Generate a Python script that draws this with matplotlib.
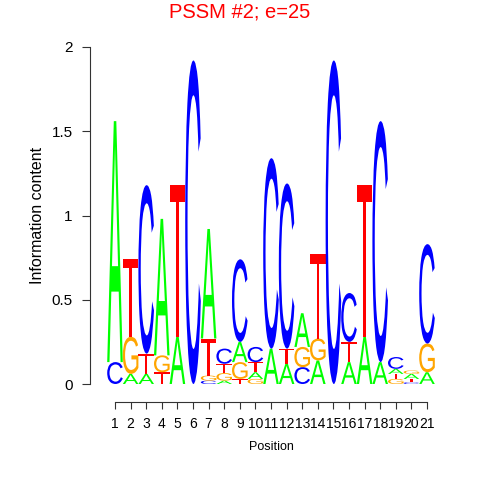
import matplotlib
matplotlib.use("Agg")
import matplotlib.pyplot as plt
from matplotlib.textpath import TextPath
from matplotlib.patches import PathPatch
from matplotlib.font_manager import FontProperties
from matplotlib.transforms import Affine2D

plt.rcParams["font.family"] = ["Liberation Sans", "DejaVu Sans"]

positions = list(range(1, 22))
# information content per base (bits)
A_h = [1.43, 0.06, 0.06, 0.81, 0.28, 0.00, 0.65, 0.02, 0.12, 0.04, 0.21,
       0.12, 0.20, 0.14, 0.00, 0.13, 0.28, 0.13, 0.03, 0.03, 0.07]
C_h = [0.13, 0.00, 1.00, 0.00, 0.00, 1.92, 0.02, 0.09, 0.49, 0.09, 1.13,
       0.98, 0.10, 0.00, 1.92, 0.29, 0.00, 1.43, 0.07, 0.01, 0.59]
G_h = [0.00, 0.22, 0.00, 0.10, 0.00, 0.00, 0.03, 0.045, 0.10, 0.03, 0.00,
       0.00, 0.12, 0.13, 0.00, 0.00, 0.00, 0.00, 0.03, 0.02, 0.17]
T_h = [0.00, 0.46, 0.12, 0.07, 0.90, 0.00, 0.22, 0.055, 0.03, 0.06, 0.00,
       0.09, 0.00, 0.50, 0.00, 0.12, 0.90, 0.00, 0.03, 0.02, 0.00]
# stacking order bottom -> top
stack_order = ["CA", "AGT", "ATC", "TGA", "AT", "C", "CGTA", "AGTC", "TGAC",
               "GATC", "AC", "ATC", "CGA", "AGT", "C", "ATC", "AT", "AC",
               "GTAC", "CTAG", "AGC"]
y_ticks = [0, 0.5, 1, 1.5, 2]
y_tick_labels = ["0", "0.5", "1", "1.5", "2"]

colors = {"A": "#00FF00", "C": "#0000FF", "G": "#FFA500", "T": "#FF0000"}
heights = {"A": A_h, "C": C_h, "G": G_h, "T": T_h}

fig = plt.figure(figsize=(4.8, 4.8), dpi=100)
ax = fig.add_axes([107.2 / 480, (480 - 384) / 480, (434.8 - 107.2) / 480, (384 - 47) / 480])

fp = FontProperties(family="Liberation Sans", weight="normal")
glyphs = {}
for L in "ACGT":
    p = TextPath((0, 0), L, size=1, prop=fp)
    glyphs[L] = (p, p.get_extents())

for i, pos in enumerate(positions):
    y0 = 0.0
    for L in stack_order[i]:
        h = heights[L][i]
        if h <= 0:
            continue
        p, bb = glyphs[L]
        w = 1.0
        tr = (Affine2D().translate(-bb.x0, -bb.y0)
              .scale(w / bb.width, h / bb.height)
              .translate(pos - w / 2, y0))
        ax.add_patch(PathPatch(tr.transform_path(p), fc=colors[L], ec="none", lw=0))
        y0 += h

ax.set_xlim(0.5, 21.5)
ax.set_ylim(0, 2)
for s in ["top", "right"]:
    ax.spines[s].set_visible(False)
ax.spines["left"].set_position(("outward", 12.3))
ax.spines["bottom"].set_position(("outward", 13))
ax.spines["left"].set_bounds(0, 2)
ax.spines["bottom"].set_bounds(1, 21)
for s in ["left", "bottom"]:
    ax.spines[s].set_color("#333333")
    ax.spines[s].set_linewidth(0.8)

ax.set_yticks(y_ticks)
ax.set_yticklabels(y_tick_labels)
ax.set_xticks(positions)
ax.set_xticklabels([str(p) for p in positions])
ax.tick_params(axis="y", length=5.5, width=0.8, color="#333333", pad=7, labelsize=11)
ax.tick_params(axis="x", length=5, width=0.8, color="#333333", pad=6, labelsize=10)

ax.set_ylabel("Information content", fontsize=11.5)
ax.yaxis.set_label_coords(-0.19, 0.5)
ax.set_xlabel("Position", fontsize=9)
ax.xaxis.set_label_coords(0.5, -0.169)

fig.text(0.5, 1 - 12 / 480, "PSSM #2; e=25", color="red", fontsize=14.5,
         ha="center", va="center")

fig.savefig("out.png", dpi=100)
